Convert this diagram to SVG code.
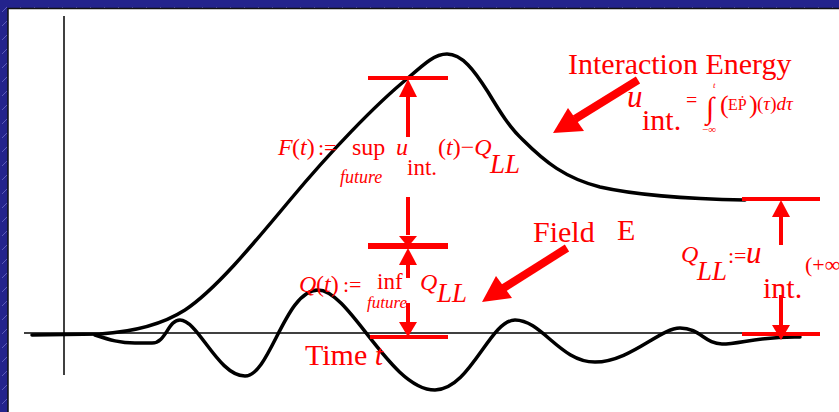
<svg xmlns="http://www.w3.org/2000/svg" width="839" height="412" viewBox="0 0 839 412">
<defs>
<pattern id="hatch" width="14" height="14" patternUnits="userSpaceOnUse">
<rect width="14" height="14" fill="#23238c"/>
<line x1="2" y1="12" x2="7" y2="7" stroke="#6a6ac4" stroke-width="0.8"/>
</pattern>
</defs>
<style>
.r{fill:#ff0000;font-family:"Liberation Serif","Times New Roman",serif}
.i{font-style:italic}
.rl{stroke:#ff0000;fill:none}
.curve{fill:none;stroke:#000;stroke-width:3.5;stroke-linejoin:round;stroke-linecap:round}
.head{fill:#ff0000}
</style>
<rect x="0" y="0" width="839" height="412" fill="url(#hatch)"/>
<rect x="8" y="8.5" width="840" height="410" fill="#fff" stroke="#111" stroke-width="1.5"/>

<g id="axes" stroke="#000" stroke-width="1.5" fill="none">
<line x1="64" y1="16" x2="64" y2="375"/>
<line x1="24" y1="333" x2="808" y2="333"/>
</g>

<g id="curves">
<path id="energy" class="curve" d="M32,335 L100,334 C130,332 160,326 185,310 C215,290 250,248 290,200 C330,152 375,105 408,78 C425,63 435,54 447,54 C462,54 474,70 488,92 C500,112 510,128 523,140 C545,162 565,178 600,187 C640,196 690,199 745,200"/>
<path id="field" class="curve" d="M95,335 C110,340 120,343 135,343 L152,343 C166,343 168,320 180,320 C198,320 218,376 245,376 C270,376 285,290 318,290 C350,290 390,390 435,390 C470,390 490,320 515,320 C542,320 560,362 595,362 C630,362 660,328 680,328 C700,328 705,344 722,344 C740,344 760,336 800,337"/>
</g>

<g id="connectors">
<g id="sup-gap">
<line class="rl" x1="368" y1="78" x2="448" y2="78" stroke-width="4"/>
<line class="rl" x1="408" y1="95" x2="408" y2="137" stroke-width="4"/>
<polygon class="head" points="399,97 408,79 417,97"/>
<line class="rl" x1="408" y1="197" x2="408" y2="235" stroke-width="4"/>
<polygon class="head" points="399,236 408,247 417,236"/>
<line class="rl" x1="368" y1="246" x2="448" y2="246" stroke-width="6"/>
<polygon class="head" points="399,265 408,248 417,265"/>
<line class="rl" x1="408" y1="264" x2="408" y2="278" stroke-width="4"/>
<line class="rl" x1="408" y1="303" x2="408" y2="323" stroke-width="4"/>
<polygon class="head" points="399,322 408,337 417,322"/>
<line class="rl" x1="370" y1="337" x2="448" y2="337" stroke-width="4"/>
</g>
<g id="qll-gap">
<line class="rl" x1="742" y1="199" x2="820" y2="199" stroke-width="4"/>
<polygon class="head" points="772,217 781,200 790,217"/>
<line class="rl" x1="781" y1="216" x2="781" y2="245" stroke-width="4"/>
<line class="rl" x1="781" y1="295" x2="781" y2="326" stroke-width="4"/>
<polygon class="head" points="772,325 781,340 790,325"/>
<line class="rl" x1="742" y1="334" x2="820" y2="334" stroke-width="4"/>
</g>
<g id="energy-arrow">
<line class="rl" x1="638" y1="80" x2="575" y2="119" stroke-width="8"/>
<polygon class="head" points="553,133 568,108 584,131"/>
</g>
<g id="field-arrow">
<line class="rl" x1="567" y1="248" x2="502" y2="289" stroke-width="8"/>
<polygon class="head" points="482,302 496,276 512,298"/>
</g>
</g>

<g id="label-energy">
<text class="r" x="568" y="74" font-size="30">Interaction Energy</text>
<text class="r i" x="627" y="107" font-size="31">u</text>
<text class="r" x="642" y="130" font-size="30">int.</text>
<text class="r" x="686" y="107" font-size="20">=</text>
<text class="r" x="706" y="118" font-size="30">∫</text>
<text class="r i" x="713" y="88" font-size="9">t</text>
<text class="r" x="702" y="133" font-size="11">−∞</text>
<text class="r" x="720" y="113" font-size="26">(</text>
<text class="r" x="728" y="110" font-size="16">EṖ</text>
<text class="r" x="749" y="113" font-size="26">)</text>
<text class="r" x="757" y="110" font-size="19">(<tspan class="i">τ</tspan>)<tspan class="i">dτ</tspan></text>
</g>

<g id="label-F">
<text class="r i" x="278" y="155" font-size="24">F</text>
<text class="r" x="292" y="155" font-size="24">(<tspan class="i">t</tspan>)</text>
<text class="r" x="318" y="155" font-size="22">:=</text>
<text class="r" x="352" y="155" font-size="24">sup</text>
<text class="r i" x="340" y="183" font-size="18">future</text>
<text class="r i" x="396" y="155" font-size="24">u</text>
<text class="r" x="407" y="175" font-size="23">int.</text>
<text class="r" x="438" y="155" font-size="24">(<tspan class="i">t</tspan>)−<tspan class="i">Q</tspan></text>
<text class="r i" x="490" y="173" font-size="27">LL</text>
</g>

<g id="label-Q">
<text class="r i" x="299" y="292" font-size="24">Q</text>
<text class="r" x="316" y="292" font-size="24">(<tspan class="i">t</tspan>)</text>
<text class="r" x="343" y="292" font-size="22">:=</text>
<text class="r" x="377" y="289" font-size="23">inf</text>
<text class="r i" x="367" y="308" font-size="17">future</text>
<text class="r i" x="420" y="290" font-size="24">Q</text>
<text class="r i" x="437" y="302" font-size="27">LL</text>
</g>

<g id="label-field">
<text class="r" x="533" y="242" font-size="30">Field</text>
<text class="r" x="617" y="240" font-size="30">E</text>
</g>

<g id="label-time">
<text class="r" x="305" y="365" font-size="30">Time <tspan class="i">t</tspan></text>
</g>

<g id="label-QLL">
<text class="r i" x="681" y="262" font-size="24">Q</text>
<text class="r i" x="697" y="280" font-size="27">LL</text>
<text class="r" x="728" y="263" font-size="22">:=</text>
<text class="r i" x="746" y="263" font-size="31">u</text>
<text class="r" x="763" y="298" font-size="30">int.</text>
<text class="r" x="805" y="272" font-size="22">(+∞</text>
</g>
</svg>
